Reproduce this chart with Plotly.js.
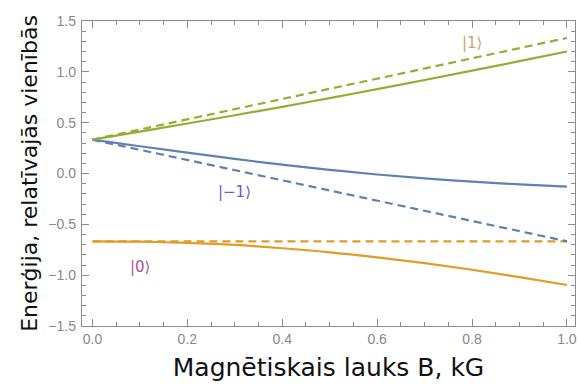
<!DOCTYPE html>
<html>
<head>
<meta charset="utf-8">
<script src="https://cdn.plot.ly/plotly-3.0.1.min.js"></script>
<style>html,body{margin:0;padding:0;background:#fff;}#chart{width:579px;height:386px;}</style>
</head>
<body>
<div id="chart"></div>
<script>
// Field values (kG)
const B = [0, 0.1, 0.2, 0.3, 0.4, 0.5, 0.6, 0.7, 0.8, 0.9, 1.0];
// Solid curves
const plusOne   = [0.333, 0.412, 0.492, 0.573, 0.656, 0.742, 0.83, 0.92, 1.012, 1.105, 1.2];
const minusOne  = [0.333, 0.268, 0.205, 0.143, 0.087, 0.036, -0.01, -0.048, -0.08, -0.107, -0.13];
const zeroState = [-0.667, -0.671, -0.683, -0.703, -0.735, -0.775, -0.825, -0.882, -0.947, -1.02, -1.097];
// Dashed (straight) lines: endpoints
const Bends = [0, 1.0];
const plusOneDash = [0.333, 1.333];
const minusOneDash = [0.333, -0.667];
const zeroDash = [-0.667, -0.667];
// Labels
const labelText = ['|1⟩', '|−1⟩', '|0⟩'];
const labelX = [0.80, 0.30, 0.10];
const labelY = [1.28, -0.18, -0.92];
const labelColor = ['#c9a56b', '#6a5acd', '#b0509c'];
// Ticks
const xTickVals = [0, 0.2, 0.4, 0.6, 0.8, 1.0];
const xTickText = ['0.0', '0.2', '0.4', '0.6', '0.8', '1.0'];
const yTickVals = [-1.5, -1.0, -0.5, 0, 0.5, 1.0, 1.5];
const yTickText = ['−1.5', '−1.0', '−0.5', '0.0', '0.5', '1.0', '1.5'];

const cBlue = '#5E81B5', cOrange = '#E19C24', cGreen = '#8FB032';
const dashStyle = '8px,5px';
const frameColor = '#8c8c8c';

const traces = [
  {x: Bends, y: zeroDash, mode: 'lines', line: {color: cOrange, width: 2.2, dash: dashStyle}},
  {x: Bends, y: minusOneDash, mode: 'lines', line: {color: cBlue, width: 2.2, dash: dashStyle}},
  {x: Bends, y: plusOneDash, mode: 'lines', line: {color: cGreen, width: 2.2, dash: dashStyle}},
  {x: B, y: zeroState, mode: 'lines', line: {color: cOrange, width: 2.2, shape: 'spline'}},
  {x: B, y: minusOne, mode: 'lines', line: {color: cBlue, width: 2.2, shape: 'spline'}},
  {x: B, y: plusOne, mode: 'lines', line: {color: cGreen, width: 2.2, shape: 'spline'}},
  {x: [null], y: [null], xaxis: 'x2', yaxis: 'y2', mode: 'lines', hoverinfo: 'skip'}
];

const tickFont = {family: 'Liberation Sans, Arial, sans-serif', size: 14, color: '#888888'};
const common = {
  showline: true, linecolor: frameColor, linewidth: 1.2,
  ticks: 'inside', ticklen: 7, tickcolor: frameColor, tickwidth: 1,
  showgrid: false, zeroline: false, tickfont: tickFont
};
const xRange = [-0.022, 1.017], yRange = [-1.5, 1.5];
const xMinor = {dtick: 0.05, tick0: 0, ticks: 'inside', ticklen: 4, tickcolor: frameColor};
const yMinor = {dtick: 0.1, tick0: 0, ticks: 'inside', ticklen: 4, tickcolor: frameColor};

const layout = {
  width: 579, height: 386,
  margin: {l: 82, r: 4, t: 21, b: 60},
  paper_bgcolor: '#fff', plot_bgcolor: '#fff',
  showlegend: false,
  xaxis: Object.assign({}, common, {
    range: xRange, tickvals: xTickVals, ticktext: xTickText, minor: xMinor,
    title: {text: 'Magnētiskais lauks B, kG', standoff: 12,
            font: {family: 'DejaVu Sans, sans-serif', size: 25, color: '#111'}}
  }),
  yaxis: Object.assign({}, common, {
    range: yRange, tickvals: yTickVals, ticktext: yTickText, minor: yMinor,
    ticklabelstandoff: 2,
    title: {text: 'Enerģija, relatīvajās vienībās', standoff: 4,
            font: {family: 'DejaVu Sans, sans-serif', size: 22, color: '#111'}}
  }),
  xaxis2: Object.assign({}, common, {
    overlaying: 'x', side: 'top', anchor: 'y2', range: xRange,
    tickvals: xTickVals, showticklabels: false, minor: xMinor
  }),
  yaxis2: Object.assign({}, common, {
    overlaying: 'y', side: 'right', anchor: 'x2', range: yRange,
    tickvals: yTickVals, showticklabels: false, minor: yMinor
  }),
  annotations: labelText.map((t, i) => ({
    x: labelX[i], y: labelY[i], xref: 'x', yref: 'y', text: t, showarrow: false,
    font: {family: 'DejaVu Sans, sans-serif', size: 15, color: labelColor[i]}
  }))
};

Plotly.newPlot('chart', traces, layout, {staticPlot: true, displayModeBar: false});
</script>
</body>
</html>
